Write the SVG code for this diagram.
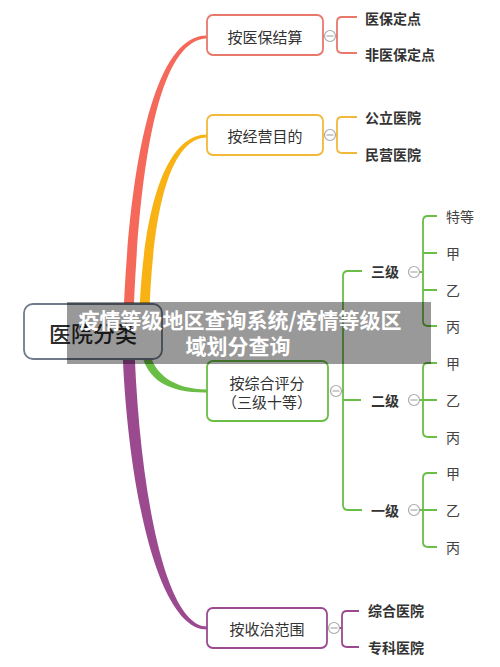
<svg xmlns="http://www.w3.org/2000/svg" width="500" height="667" viewBox="0 0 500 667">
<style>
text{font-family:"Noto Sans CJK SC","Noto Sans",sans-serif;dominant-baseline:central}
.box{fill:#fff;stroke-width:1.8}
.bt{font-size:15px;fill:#333;text-anchor:middle}
.lf{font-size:14px;fill:#333;font-weight:bold}
.lv{font-size:14px;fill:#444}
.br{fill:none;stroke-width:1.8}
.tog circle{fill:#fff;stroke:#aaa;stroke-width:1.2}
.tog line{stroke:#aaa;stroke-width:1.2}
</style>
<defs>
<g id="tg" class="tog"><circle cx="0" cy="0" r="5.5"/><line x1="-3.5" y1="0" x2="3.5" y2="0"/></g>
</defs>
<rect width="500" height="667" fill="#fff"/>
<g id="connectors">
<path d="M123,330 C128,168 153,35 207,35.5 L207,38.5 C157,39.5 138,172 133,330 Z" fill="#f4695a"/>
<path d="M139,330 C141,218 163,134.5 207,134.5 L207,137.5 C167,138 151,222 149,330 Z" fill="#f9b214"/>
<path d="M141,350 C146,381 170,393 207,392.5 L207,389.5 C174,389 154,375 149,350 Z" fill="#6abd45"/>
<path d="M122,335 C126,482 157,630 207,629.5 L207,626.5 C163,626 138,478 134,335 Z" fill="#9b4a8f"/>
<path class="br" stroke="#e8786a" d="M335,36 H337 M357,17 H342 Q337,17 337,22 V48 Q337,53 342,53 H357"/>
<path class="br" stroke="#f2b83a" d="M335,135 H337 M357,117 H342 Q337,117 337,122 V148 Q337,153 342,153 H357"/>
<path class="br" stroke="#6abd45" d="M341,391 H343 M362,271 H348 Q343,271 343,276 V505 Q343,510 348,510 H362 M343,400 H361"/>
<path class="br" stroke="#6abd45" d="M419,272 H423 M437,216 H428 Q423,216 423,221 V321 Q423,326 428,326 H437 M423,253 H437 M423,290 H437"/>
<path class="br" stroke="#6abd45" d="M419,400 H437 M437,363 H428 Q423,363 423,368 V432 Q423,437 428,437 H437"/>
<path class="br" stroke="#6abd45" d="M419,510 H437 M437,473 H428 Q423,473 423,478 V542 Q423,547 428,547 H437"/>
<path class="br" stroke="#9b4a8f" d="M339,628 H342 M359,611 H347 Q342,611 342,616 V642 Q342,647 347,647 H359"/>
</g>
<g id="root">
<rect x="24" y="304" width="138" height="55" rx="9" fill="#fff" stroke="#717a8a" stroke-width="1.8"/>
<text x="93" y="332" style="font-size:22px;font-weight:500;fill:#2b2b2b;text-anchor:middle">医院分类</text>
</g>
<g id="n1">
<rect class="box" x="207" y="15" width="116" height="40" rx="6" stroke="#e8786a"/>
<text class="bt" x="265" y="36">按医保结算</text>
<use href="#tg" x="330" y="36"/>
</g>
<g id="n1a"><text class="lf" x="365" y="18">医保定点</text></g>
<g id="n1b"><text class="lf" x="365" y="54">非医保定点</text></g>
<g id="n2">
<rect class="box" x="207" y="115" width="116" height="40" rx="6" stroke="#f2b83a"/>
<text class="bt" x="265" y="135">按经营目的</text>
<use href="#tg" x="330" y="135"/>
</g>
<g id="n2a"><text class="lf" x="365" y="117">公立医院</text></g>
<g id="n2b"><text class="lf" x="365" y="154">民营医院</text></g>
<g id="n3">
<rect class="box" x="207" y="361" width="121" height="60" rx="6" stroke="#6abd45"/>
<text class="bt" x="267" y="382">按综合评分</text>
<text class="bt" x="267" y="401">（三级十等）</text>
<use href="#tg" x="336" y="391"/>
</g>
<g id="n31">
<text class="lf" x="385" y="271" text-anchor="middle">三级</text>
<use href="#tg" x="414" y="272"/>
</g>
<g id="n31a"><text class="lv" x="446" y="216">特等</text></g>
<g id="n31b"><text class="lv" x="446" y="253">甲</text></g>
<g id="n31c"><text class="lv" x="446" y="290">乙</text></g>
<g id="n31d"><text class="lv" x="446" y="326">丙</text></g>
<g id="n32">
<text class="lf" x="385" y="400" text-anchor="middle">二级</text>
<use href="#tg" x="414" y="400"/>
</g>
<g id="n32a"><text class="lv" x="446" y="363">甲</text></g>
<g id="n32b"><text class="lv" x="446" y="400">乙</text></g>
<g id="n32c"><text class="lv" x="446" y="437">丙</text></g>
<g id="n33">
<text class="lf" x="385" y="510" text-anchor="middle">一级</text>
<use href="#tg" x="414" y="510"/>
</g>
<g id="n33a"><text class="lv" x="446" y="473">甲</text></g>
<g id="n33b"><text class="lv" x="446" y="510">乙</text></g>
<g id="n33c"><text class="lv" x="446" y="547">丙</text></g>
<g id="n4">
<rect class="box" x="207" y="608" width="120" height="40" rx="6" stroke="#9b4a8f"/>
<text class="bt" x="267" y="628">按收治范围</text>
<use href="#tg" x="334" y="628"/>
</g>
<g id="n4a"><text class="lf" x="368" y="610">综合医院</text></g>
<g id="n4b"><text class="lf" x="368" y="647">专科医院</text></g>
<g id="overlay">
<rect x="67" y="302" width="364" height="62" fill="#000" fill-opacity="0.4"/>
<text x="240" y="319" style="font-size:21px;font-weight:bold;fill:#fff;text-anchor:middle">疫情等级地区查询系统/疫情等级区</text>
<text x="238" y="345" style="font-size:21px;font-weight:bold;fill:#fff;text-anchor:middle">域划分查询</text>
</g>
</svg>
